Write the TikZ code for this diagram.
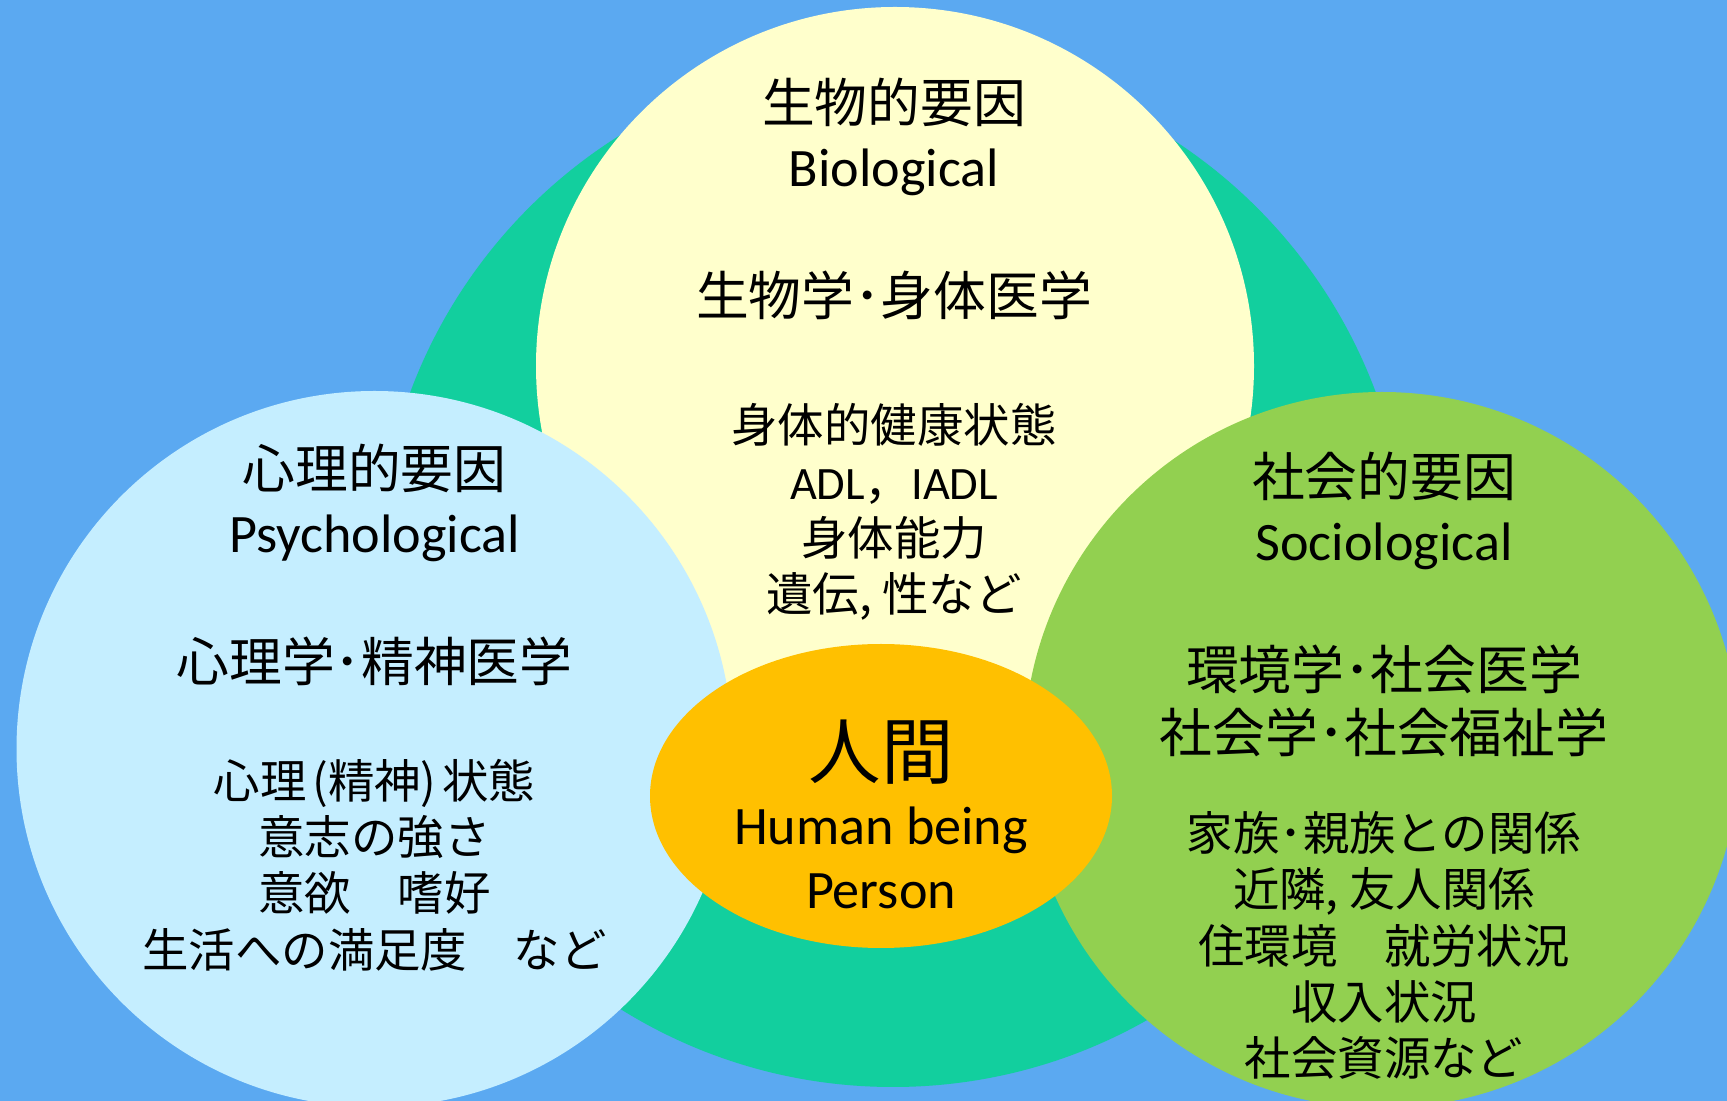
\documentclass[tikz,border=0pt]{standalone}
\usepackage{fontspec}
\setmainfont{Noto Sans CJK JP}
\newfontfamily\latinfont{Carlito}
\usetikzlibrary{positioning}

\definecolor{bgblue}{HTML}{5BA9F1}
\definecolor{ringteal}{HTML}{12CF9E}
\definecolor{bioyellow}{HTML}{FFFFCC}
\definecolor{psyblue}{HTML}{C5EEFF}
\definecolor{socgreen}{HTML}{92D050}
\definecolor{humangold}{HTML}{FFC000}

\tikzset{
	title/.style={align=center, inner sep=0pt, font=\fontsize{15}{18.2}\selectfont},
	field/.style={align=center, inner sep=0pt, font=\fontsize{15}{17.8}\selectfont},
	items/.style={align=center, inner sep=0pt, font=\fontsize{13.2}{16}\selectfont},
	bigname/.style={inner sep=0pt, font=\fontsize{20.6}{24}\selectfont}
}

\begin{document}
\begin{tikzpicture}[x=0.01cm, y=-0.01cm]
	\useasboundingbox (0,0) rectangle (1727,1101);
	\clip (0,0) rectangle (1727,1101);
	\fill[bgblue] (0,0) rectangle (1727,1101);
	% circles
	\fill[ringteal] (893,572) circle [radius=515];
	\fill[bioyellow] (895,366) circle [radius=359];
	\fill[psyblue] (374.5,749) circle [radius=358];
	\fill[socgreen] (1382,750) circle [radius=358];
	\fill[humangold] (881,796) ellipse [x radius=231, y radius=152];
	% biological
	\node[title] (bioTitle) at (894,136.5) {生物的要因\\{\latinfont\fontsize{15.4}{18.2}\selectfont Biological}};
	\node[field] (bioField) at (894,295) {生物学･身体医学};
	\node[items] (bioItems) at (894,512) {身体的健康状態\\{\latinfont ADL}，{\latinfont IADL}\\身体能力\\遺伝, 性など};
	% psychological
	\node[title] (psyTitle) at (374.5,502.5) {心理的要因\\{\latinfont\fontsize{15.4}{18.2}\selectfont Psychological}};
	\node[field] (psyField) at (374.5,661) {心理学･精神医学};
	\node[items] (psyItems) at (374.5,865) {心理\kern0.12em(精神)\kern0.12em状態\\意志の強さ\\意欲　嗜好\\生活への満足度　など};
	% sociological
	\node[title] (socTitle) at (1384,511) {社会的要因\\{\latinfont\fontsize{15.4}{18.2}\selectfont Sociological}};
	\node[field] (socField) at (1384,701) {環境学･社会医学\\社会学･社会福祉学};
	\node[items] (socItems) at (1384,945.5) {家族･親族との関係\\近隣, 友人関係\\住環境　就労状況\\収入状況\\社会資源など};
	% human
	\node[bigname] (humanJa) at (881,752) {人間};
	\node[title] (humanEn) at (881,858) {\latinfont\fontsize{15.4}{18.2}\selectfont Human being\\\latinfont\fontsize{15.4}{18.2}\selectfont Person};
\end{tikzpicture}
\end{document}
